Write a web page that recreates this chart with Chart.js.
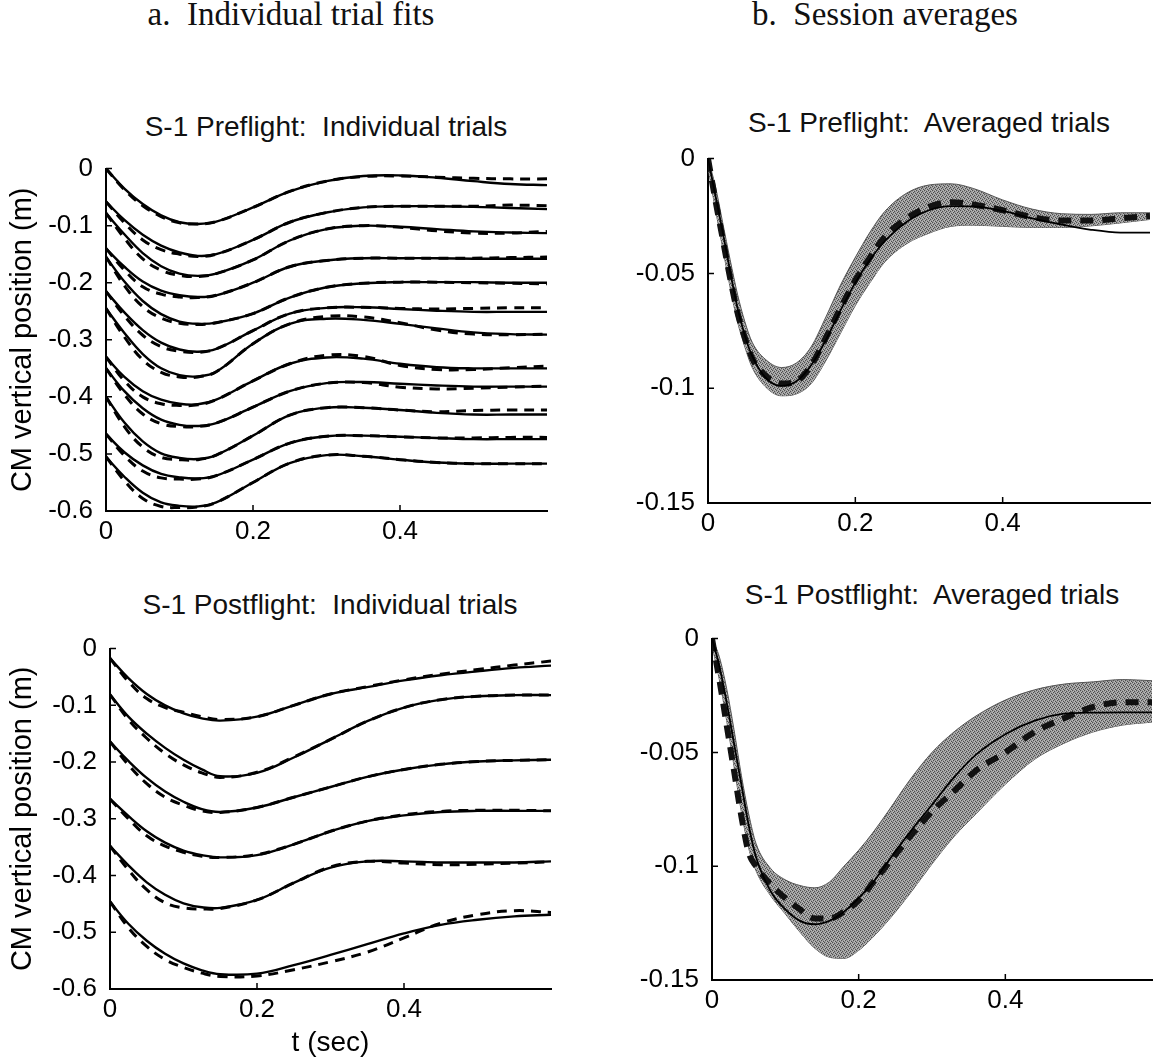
<!DOCTYPE html>
<html>
<head>
<meta charset="utf-8">
<script src="https://cdn.jsdelivr.net/npm/chart.js@4/dist/chart.umd.min.js"></script>
<style>
html,body{margin:0;padding:0;background:#fff;}
body{width:1156px;height:1061px;position:relative;overflow:hidden;}
canvas{position:absolute;}
.hdr{position:absolute;font-family:"Liberation Serif","Times New Roman",serif;font-size:33px;line-height:33px;color:#111;white-space:pre;transform:translateX(-50%);}
.ttl{position:absolute;font-family:"Liberation Sans",Arial,Helvetica,sans-serif;font-size:28px;line-height:28px;color:#111;white-space:pre;transform:translateX(-50%);}
</style>
</head>
<body>
<div class="hdr" style="left:291px;top:-2px">a.  Individual trial fits</div>
<div class="hdr" style="left:885px;top:-2px">b.  Session averages</div>
<div class="ttl" style="left:326px;top:113px">S-1 Preflight:  Individual trials</div>
<div class="ttl" style="left:929px;top:109px">S-1 Preflight:  Averaged trials</div>
<div class="ttl" style="left:330px;top:591px">S-1 Postflight:  Individual trials</div>
<div class="ttl" style="left:932px;top:581px">S-1 Postflight:  Averaged trials</div>

<canvas id="tl" width="565" height="420" style="left:0px;top:140px"></canvas>
<canvas id="tr" width="556" height="420" style="left:600px;top:130px"></canvas>
<canvas id="bl" width="565" height="460" style="left:0px;top:620px"></canvas>
<canvas id="br" width="556" height="420" style="left:600px;top:610px"></canvas>

<script>
// ---------- axis ticks ----------
const xTickVals = [0, 0.2, 0.4];
const xTickLabels = ['0', '0.2', '0.4'];
const yTickValsTrials = [0, -0.1, -0.2, -0.3, -0.4, -0.5, -0.6];
const yTickLabelsTrials = ['0', '-0.1', '-0.2', '-0.3', '-0.4', '-0.5', '-0.6'];
const yTickValsAvg = [0, -0.05, -0.1, -0.15];
const yTickLabelsAvg = ['0', '-0.05', '-0.1', '-0.15'];

// ---------- time samples (s) ----------
const tTrial = [0, 0.025, 0.05, 0.075, 0.1, 0.125, 0.15, 0.2, 0.25, 0.3, 0.35, 0.4, 0.45, 0.5, 0.55, 0.6];
const tAvg = [0, 0.01, 0.02, 0.03, 0.04, 0.05, 0.06, 0.08, 0.1, 0.12, 0.14, 0.16, 0.18, 0.2, 0.22, 0.24, 0.27, 0.3, 0.33, 0.36, 0.4, 0.44, 0.48, 0.52, 0.56, 0.6];

// ---------- Preflight individual trials: model fit (solid) and data (dashed) ----------
const preFit1  = [0, -0.035, -0.062, -0.082, -0.094, -0.097, -0.093, -0.068, -0.040, -0.022, -0.013, -0.012, -0.016, -0.022, -0.027, -0.029];
const preData1 = [0, -0.037, -0.065, -0.084, -0.095, -0.097, -0.093, -0.068, -0.040, -0.022, -0.014, -0.013, -0.015, -0.017, -0.018, -0.018];
const preFit2  = [-0.058, -0.090, -0.116, -0.135, -0.147, -0.153, -0.150, -0.125, -0.094, -0.077, -0.068, -0.066, -0.066, -0.067, -0.069, -0.071];
const preData2 = [-0.058, -0.095, -0.125, -0.142, -0.150, -0.154, -0.150, -0.125, -0.094, -0.077, -0.068, -0.066, -0.066, -0.066, -0.064, -0.065];
const preFit3  = [-0.078, -0.115, -0.148, -0.171, -0.184, -0.188, -0.184, -0.160, -0.126, -0.106, -0.100, -0.102, -0.106, -0.110, -0.112, -0.113];
const preData3 = [-0.078, -0.122, -0.158, -0.178, -0.187, -0.189, -0.184, -0.160, -0.126, -0.106, -0.100, -0.103, -0.109, -0.113, -0.113, -0.110];
const preFit4  = [-0.140, -0.172, -0.198, -0.214, -0.222, -0.225, -0.222, -0.200, -0.172, -0.161, -0.157, -0.157, -0.157, -0.158, -0.158, -0.158];
const preData4 = [-0.140, -0.178, -0.207, -0.220, -0.225, -0.226, -0.222, -0.200, -0.172, -0.161, -0.157, -0.157, -0.157, -0.157, -0.156, -0.155];
const preFit5  = [-0.155, -0.198, -0.232, -0.255, -0.268, -0.272, -0.270, -0.254, -0.226, -0.208, -0.201, -0.199, -0.199, -0.199, -0.200, -0.200];
const preData5 = [-0.155, -0.205, -0.242, -0.262, -0.271, -0.273, -0.270, -0.254, -0.226, -0.208, -0.201, -0.199, -0.199, -0.200, -0.201, -0.202];
const preFit6  = [-0.215, -0.252, -0.283, -0.305, -0.317, -0.321, -0.316, -0.284, -0.254, -0.244, -0.243, -0.246, -0.249, -0.251, -0.251, -0.251];
const preData6 = [-0.215, -0.258, -0.292, -0.312, -0.320, -0.322, -0.316, -0.284, -0.254, -0.244, -0.243, -0.245, -0.246, -0.245, -0.244, -0.244];
const preFit7  = [-0.245, -0.288, -0.325, -0.350, -0.362, -0.364, -0.356, -0.307, -0.272, -0.263, -0.265, -0.272, -0.280, -0.287, -0.290, -0.291];
const preData7 = [-0.245, -0.295, -0.335, -0.357, -0.365, -0.365, -0.356, -0.307, -0.272, -0.259, -0.260, -0.270, -0.283, -0.290, -0.291, -0.290];
const preFit8  = [-0.330, -0.365, -0.390, -0.405, -0.412, -0.413, -0.405, -0.372, -0.342, -0.331, -0.333, -0.342, -0.348, -0.350, -0.350, -0.350];
const preData8 = [-0.330, -0.372, -0.400, -0.412, -0.415, -0.414, -0.405, -0.372, -0.342, -0.327, -0.329, -0.345, -0.352, -0.352, -0.349, -0.346];
const preFit9  = [-0.350, -0.390, -0.420, -0.440, -0.449, -0.451, -0.446, -0.418, -0.390, -0.376, -0.374, -0.377, -0.380, -0.382, -0.382, -0.382];
const preData9 = [-0.350, -0.396, -0.430, -0.447, -0.452, -0.452, -0.446, -0.418, -0.390, -0.376, -0.375, -0.383, -0.386, -0.385, -0.383, -0.381];
const preFit10  = [-0.400, -0.445, -0.478, -0.499, -0.507, -0.509, -0.502, -0.468, -0.432, -0.419, -0.419, -0.423, -0.428, -0.431, -0.431, -0.431];
const preData10 = [-0.400, -0.452, -0.488, -0.506, -0.510, -0.510, -0.502, -0.468, -0.432, -0.419, -0.419, -0.423, -0.426, -0.424, -0.423, -0.423];
const preFit11  = [-0.465, -0.497, -0.520, -0.535, -0.541, -0.543, -0.538, -0.510, -0.481, -0.469, -0.468, -0.470, -0.472, -0.474, -0.474, -0.474];
const preData11 = [-0.465, -0.503, -0.530, -0.542, -0.544, -0.544, -0.538, -0.510, -0.481, -0.469, -0.468, -0.470, -0.472, -0.472, -0.471, -0.471];
const preFit12  = [-0.505, -0.540, -0.568, -0.585, -0.591, -0.592, -0.585, -0.550, -0.516, -0.502, -0.504, -0.510, -0.515, -0.517, -0.517, -0.517];
const preData12 = [-0.505, -0.547, -0.578, -0.592, -0.594, -0.593, -0.585, -0.550, -0.516, -0.502, -0.504, -0.510, -0.515, -0.517, -0.517, -0.517];

// ---------- Postflight individual trials ----------
const postFit1  = [-0.017, -0.052, -0.080, -0.100, -0.114, -0.123, -0.127, -0.120, -0.100, -0.080, -0.068, -0.056, -0.047, -0.040, -0.034, -0.030];
const postData1 = [-0.017, -0.058, -0.088, -0.104, -0.112, -0.120, -0.125, -0.120, -0.100, -0.080, -0.067, -0.055, -0.045, -0.037, -0.029, -0.022];
const postFit2  = [-0.081, -0.120, -0.150, -0.175, -0.196, -0.213, -0.225, -0.219, -0.192, -0.160, -0.128, -0.104, -0.090, -0.084, -0.082, -0.082];
const postData2 = [-0.081, -0.125, -0.158, -0.185, -0.205, -0.219, -0.227, -0.218, -0.191, -0.160, -0.128, -0.104, -0.090, -0.084, -0.082, -0.082];
const postFit3  = [-0.164, -0.198, -0.228, -0.252, -0.270, -0.283, -0.288, -0.280, -0.262, -0.244, -0.226, -0.213, -0.204, -0.199, -0.197, -0.196];
const postData3 = [-0.164, -0.205, -0.238, -0.262, -0.276, -0.286, -0.289, -0.280, -0.262, -0.244, -0.226, -0.213, -0.204, -0.199, -0.197, -0.196];
const postFit4  = [-0.265, -0.295, -0.322, -0.342, -0.356, -0.364, -0.368, -0.364, -0.345, -0.322, -0.304, -0.294, -0.288, -0.286, -0.286, -0.286];
const postData4 = [-0.265, -0.300, -0.330, -0.348, -0.359, -0.366, -0.368, -0.363, -0.345, -0.322, -0.304, -0.293, -0.287, -0.285, -0.285, -0.286];
const postFit5  = [-0.348, -0.382, -0.412, -0.434, -0.449, -0.456, -0.457, -0.443, -0.413, -0.386, -0.375, -0.375, -0.377, -0.377, -0.377, -0.375];
const postData5 = [-0.348, -0.390, -0.425, -0.448, -0.457, -0.459, -0.458, -0.443, -0.413, -0.385, -0.375, -0.378, -0.381, -0.380, -0.378, -0.376];
const postFit6  = [-0.446, -0.485, -0.515, -0.538, -0.555, -0.567, -0.574, -0.573, -0.558, -0.540, -0.521, -0.502, -0.487, -0.478, -0.472, -0.469];
const postData6 = [-0.446, -0.492, -0.525, -0.548, -0.562, -0.572, -0.578, -0.577, -0.566, -0.552, -0.535, -0.510, -0.484, -0.469, -0.462, -0.465];

// ---------- Session averages (fit = thin solid, data mean = thick dashed, band = +/- 1 SD) ----------
const preAvgFit   = [0, -0.016, -0.032, -0.049, -0.065, -0.077, -0.086, -0.096, -0.099, -0.097, -0.090, -0.079, -0.066, -0.054, -0.044, -0.036, -0.0275, -0.0225, -0.0207, -0.0208, -0.0228, -0.026, -0.0287, -0.031, -0.0322, -0.0322];
const preAvgData  = [0, -0.018, -0.035, -0.052, -0.067, -0.078, -0.087, -0.095, -0.098, -0.097, -0.090, -0.078, -0.065, -0.053, -0.043, -0.034, -0.026, -0.021, -0.019, -0.020, -0.0225, -0.0255, -0.027, -0.027, -0.026, -0.025];
const preAvgUpper = [0, -0.012, -0.028, -0.044, -0.059, -0.071, -0.080, -0.088, -0.091, -0.089, -0.082, -0.069, -0.055, -0.043, -0.032, -0.023, -0.015, -0.0115, -0.011, -0.013, -0.018, -0.022, -0.024, -0.0243, -0.0236, -0.0236];
const preAvgLower = [-0.004, -0.022, -0.039, -0.056, -0.071, -0.082, -0.091, -0.100, -0.1033, -0.1025, -0.098, -0.088, -0.076, -0.064, -0.054, -0.045, -0.037, -0.0325, -0.0295, -0.029, -0.0295, -0.030, -0.030, -0.0293, -0.028, -0.0265];

const postAvgFit   = [0, -0.012, -0.028, -0.046, -0.064, -0.082, -0.096, -0.111, -0.119, -0.124, -0.1255, -0.124, -0.120, -0.114, -0.107, -0.098, -0.085, -0.073, -0.061, -0.051, -0.042, -0.036, -0.033, -0.0325, -0.0324, -0.0324];
const postAvgData  = [0, -0.018, -0.038, -0.058, -0.078, -0.094, -0.100, -0.108, -0.114, -0.119, -0.123, -0.123, -0.120, -0.115, -0.107, -0.099, -0.087, -0.076, -0.067, -0.058, -0.050, -0.041, -0.035, -0.030, -0.028, -0.028];
const postAvgUpper = [0, -0.008, -0.022, -0.040, -0.060, -0.077, -0.090, -0.101, -0.106, -0.1085, -0.1095, -0.107, -0.100, -0.093, -0.085, -0.076, -0.062, -0.050, -0.041, -0.034, -0.027, -0.0225, -0.020, -0.019, -0.018, -0.0185];
const postAvgLower = [-0.003, -0.018, -0.036, -0.056, -0.076, -0.092, -0.102, -0.113, -0.121, -0.129, -0.136, -0.140, -0.1405, -0.137, -0.131, -0.124, -0.112, -0.099, -0.087, -0.077, -0.064, -0.053, -0.046, -0.041, -0.038, -0.0367];

const preFits  = [preFit1, preFit2, preFit3, preFit4, preFit5, preFit6, preFit7, preFit8, preFit9, preFit10, preFit11, preFit12];
const preDatas = [preData1, preData2, preData3, preData4, preData5, preData6, preData7, preData8, preData9, preData10, preData11, preData12];
const postFits  = [postFit1, postFit2, postFit3, postFit4, postFit5, postFit6];
const postDatas = [postData1, postData2, postData3, postData4, postData5, postData6];

// ---------- helpers ----------
const FONT = '"Liberation Sans", Arial, Helvetica, sans-serif';
const pts = (xs, ys) => ys.map((y, i) => ({ x: xs[i], y: y }));

const inwardTicks = {
  id: 'inwardTicks',
  afterDraw(chart) {
    const { ctx, chartArea: a, scales: { x, y } } = chart;
    ctx.save();
    ctx.strokeStyle = '#000';
    ctx.lineWidth = 1.5;
    ctx.beginPath();
    x.ticks.forEach(t => { const p = x.getPixelForValue(t.value); ctx.moveTo(p, a.bottom); ctx.lineTo(p, a.bottom - 6); });
    y.ticks.forEach(t => { const p = y.getPixelForValue(t.value); ctx.moveTo(a.left, p); ctx.lineTo(a.left + 6, p); });
    ctx.stroke();
    ctx.restore();
  }
};

function bandPattern() {
  const c = document.createElement('canvas');
  c.width = 4; c.height = 4;
  const g = c.getContext('2d');
  g.fillStyle = '#999999'; g.fillRect(0, 0, 4, 4);
  g.fillStyle = '#4e4e4e';
  [[0,0],[2,1],[1,2],[3,3]].forEach(p => g.fillRect(p[0], p[1], 1, 1));
  g.fillStyle = '#bcbcbc';
  [[2,3],[0,2],[3,0],[1,1]].forEach(p => g.fillRect(p[0], p[1], 1, 1));
  return g.createPattern(c, 'repeat');
}

function trialSets(fits, datas) {
  const ds = [];
  fits.forEach((f, i) => {
    ds.push({ data: pts(tTrial, f), borderColor: '#000', borderWidth: 2.4, fill: false, tension: 0.4, cubicInterpolationMode: 'default' });
    ds.push({ data: pts(tTrial, datas[i]), borderColor: '#000', borderWidth: 3, borderDash: [10, 7], fill: false, tension: 0.4, cubicInterpolationMode: 'default' });
  });
  return ds;
}

function avgSets(fit, data, upper, lower) {
  const pat = bandPattern();
  return [
    { data: pts(tAvg, fit), borderColor: '#000', borderWidth: 1.8, fill: false },
    { data: pts(tAvg, data), borderColor: '#111', borderWidth: 6, borderDash: [13, 9], fill: false },
    { data: pts(tAvg, upper), borderColor: '#555', borderWidth: 1, backgroundColor: pat, fill: '+1' },
    { data: pts(tAvg, lower), borderColor: '#555', borderWidth: 1, fill: false }
  ];
}

function panel(id, cfg) {
  return new Chart(document.getElementById(id), {
    type: 'line',
    data: { datasets: cfg.datasets },
    options: {
      responsive: false,
      animation: false,
      devicePixelRatio: 1,
      layout: { padding: cfg.pad },
      elements: { point: { radius: 0 }, line: { cubicInterpolationMode: 'monotone' } },
      plugins: { legend: { display: false }, tooltip: { enabled: false }, title: { display: false } },
      scales: {
        x: {
          type: 'linear', min: 0, max: 0.6,
          grid: { display: false, drawTicks: false },
          border: { display: true, color: '#000', width: 2 },
          afterBuildTicks: s => { s.ticks = xTickVals.map(v => ({ value: v })); },
          afterFit: s => { s.height = cfg.xH; },
          ticks: { color: '#000', font: { family: FONT, size: 26 }, padding: 5, maxRotation: 0, autoSkip: false,
                   callback: (v, i) => xTickLabels[i] },
          title: cfg.xTitle ? { display: true, text: cfg.xTitle, color: '#000', font: { family: FONT, size: 28 }, padding: { top: 0, bottom: 3 } }
                            : { display: false }
        },
        y: {
          type: 'linear', min: cfg.yMin, max: 0,
          grid: { display: false, drawTicks: false },
          border: { display: true, color: '#000', width: 2 },
          afterBuildTicks: s => { s.ticks = cfg.yVals.map(v => ({ value: v })); },
          afterFit: s => { s.width = cfg.yW; },
          ticks: { color: '#000', font: { family: FONT, size: 26 }, padding: 13, autoSkip: false,
                   callback: (v, i) => cfg.yLabels[i] },
          title: cfg.yTitle ? { display: true, text: cfg.yTitle, color: '#000', font: { family: FONT, size: 29 }, padding: { top: 0, bottom: 0 } }
                            : { display: false }
        }
      }
    },
    plugins: [inwardTicks]
  });
}

panel('tl', {
  datasets: trialSets(preFits, preDatas),
  pad: { left: 6, top: 24, right: 18, bottom: 9 }, yW: 100, xH: 40,
  yMin: -0.6, yVals: yTickValsTrials, yLabels: yTickLabelsTrials, yTitle: 'CM vertical position (m)'
});
panel('bl', {
  datasets: trialSets(postFits, postDatas),
  pad: { left: 6, top: 22, right: 14, bottom: 17 }, yW: 104, xH: 74,
  yMin: -0.6, yVals: yTickValsTrials, yLabels: yTickLabelsTrials, yTitle: 'CM vertical position (m)', xTitle: 't (sec)'
});
panel('tr', {
  datasets: avgSets(preAvgFit, preAvgData, preAvgUpper, preAvgLower),
  pad: { left: 0, top: 25, right: 6, bottom: 7 }, yW: 108, xH: 40,
  yMin: -0.15, yVals: yTickValsAvg, yLabels: yTickLabelsAvg
});
panel('br', {
  datasets: avgSets(postAvgFit, postAvgData, postAvgUpper, postAvgLower),
  pad: { left: 0, top: 23, right: 4, bottom: 10 }, yW: 112, xH: 40,
  yMin: -0.15, yVals: yTickValsAvg, yLabels: yTickLabelsAvg
});
</script>
</body>
</html>
